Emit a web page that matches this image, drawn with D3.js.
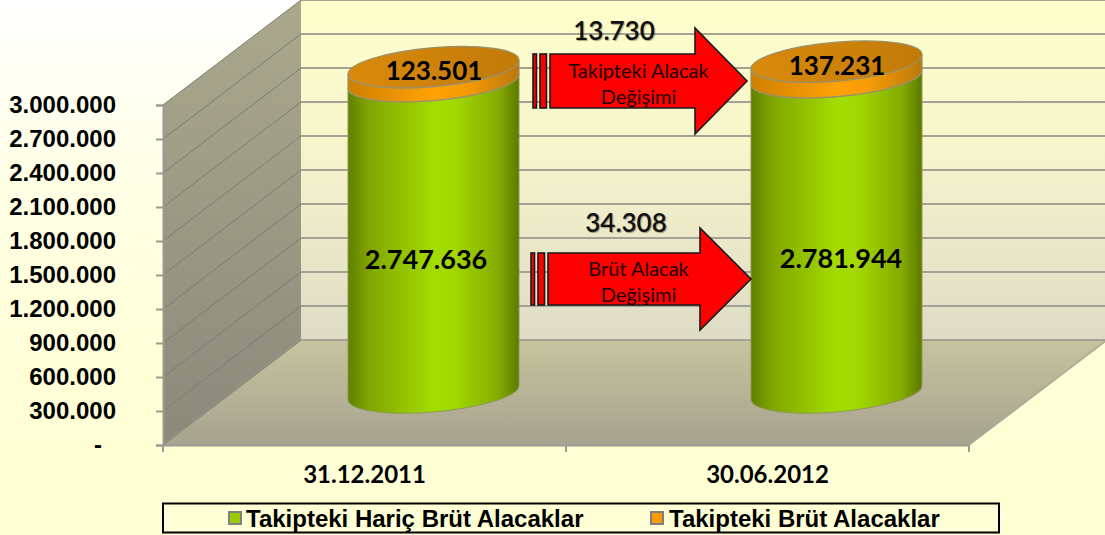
<!DOCTYPE html>
<html><head><meta charset="utf-8">
<style>
html,body{margin:0;padding:0;overflow:hidden;background:#ffffd6}
svg{display:block}
.lato{font-family:Lato,sans-serif}
.ar{font-family:"Liberation Sans",Arial,sans-serif;font-weight:bold}
</style>
<script src="https://cdn.jsdelivr.net/npm/d3@7/dist/d3.min.js"></script>
</head><body>
<script>
const categories = ["31.12.2011", "30.06.2012"];
const baseValues = [2747636, 2781944];
const topValues = [123501, 137231];
const yTicks = [0, 300000, 600000, 900000, 1200000, 1500000, 1800000, 2100000, 2400000, 2700000, 3000000];
const seriesNames = ["Takipteki Hariç Brüt Alacaklar", "Takipteki Brüt Alacaklar"];
const changeValues = [13730, 34308];
const changeLabels = [["Takipteki Alacak", "Değişimi"], ["Brüt Alacak", "Değişimi"]];

const W = 1105, H = 535;
const left = 163, right = 969, bottom = 445, top3 = 105;
const depthX = 138, depthY = 105;
const fmt = d3.formatLocale({decimal: ",", thousands: ".", grouping: [3], currency: ["", ""]}).format(",d");

const y = d3.scaleLinear().domain([0, 3000000]).range([bottom, top3]);
const x = d3.scaleBand().domain(categories).range([left, right]);

const svg = d3.select("body").append("svg").attr("width", W).attr("height", H);
const defs = svg.append("defs");
function grad(id, stops, x2, y2) {
  const g = defs.append("linearGradient").attr("id", id)
    .attr("x1", 0).attr("y1", 0).attr("x2", x2).attr("y2", y2);
  stops.forEach(s => g.append("stop").attr("offset", s[0]).attr("stop-color", s[1]));
}
grad("page", [[0, "#ffffff"], [0.3, "#ffffe8"], [0.65, "#ffffd8"], [1, "#ffffd4"]], 0, 1);
grad("back", [[0, "#ffffcc"], [0.45, "#f6f4cc"], [1, "#dedbc6"]], 0, 1);
grad("wall", [[0, "#aaa88c"], [1, "#8b8a7b"]], 0, 1);
grad("floor", [[0, "#c6c39e"], [1, "#a6a38f"]], 0, 1);
grad("green", [[0, "#5f8000"], [0.12, "#7fa500"], [0.5, "#a4dc00"], [0.62, "#a2d800"], [0.88, "#85ab00"], [1, "#5c7a00"]], 1, 0);
grad("orange", [[0, "#cf8000"], [0.5, "#ffa205"], [0.7, "#f59a05"], [1, "#b9780a"]], 1, 0);
grad("lid", [[0, "#d98a0c"], [1, "#c27a08"]], 1, 0);

svg.append("rect").attr("width", W).attr("height", H).attr("fill", "url(#page)");

// Walls and floor
const wallPts = [[left, y(3000000)], [left + depthX, y(3000000) - depthY], [left + depthX, bottom - depthY], [left, bottom]];
const floorPts = [[left, bottom], [right, bottom], [right + depthX, bottom - depthY], [left + depthX, bottom - depthY]];
svg.append("rect").attr("x", left + depthX).attr("y", y(3000000) - depthY)
  .attr("width", W - left - depthX).attr("height", y(0) - y(3000000)).attr("fill", "url(#back)");
svg.append("polygon").attr("points", wallPts.join(" ")).attr("fill", "url(#wall)");
svg.append("polygon").attr("points", floorPts.join(" ")).attr("fill", "url(#floor)")
  .attr("stroke", "#a9a998").attr("stroke-width", 1.5);

// Gridlines
svg.append("g").selectAll("line").data(yTicks).join("line")
  .attr("x1", left + depthX).attr("x2", W)
  .attr("y1", d => y(d) - depthY).attr("y2", d => y(d) - depthY)
  .attr("stroke", "#a3a294").attr("stroke-width", 2);
svg.append("g").selectAll("line").data(yTicks).join("line")
  .attr("x1", left).attr("x2", left + depthX)
  .attr("y1", d => y(d)).attr("y2", d => y(d) - depthY)
  .attr("stroke", "#7e7d70").attr("stroke-width", 1);

// Axes
const yAxis = svg.append("g").attr("transform", `translate(${left},0)`)
  .call(d3.axisLeft(y).tickValues(yTicks).tickSize(7).tickPadding(40)
    .tickFormat(d => d === 0 ? "-" : fmt(d)));
yAxis.selectAll("text").attr("class", "ar").attr("font-size", 24).attr("fill", "#000")
  .attr("dx", d => d === 0 ? -14 : 0);
const xEdges = [left, (left + right) / 2, right];
const xAxisG = svg.append("g").attr("transform", `translate(0,${bottom})`);
xAxisG.call(d3.axisBottom(x).tickSize(0).tickPadding(21));
xAxisG.selectAll("text").attr("class", "lato").attr("font-size", 24).attr("font-weight", 700).attr("fill", "#000");
xAxisG.selectAll("line.edge").data(xEdges).join("line").attr("class", "edge")
  .attr("x1", d => d).attr("x2", d => d).attr("y1", 0).attr("y2", 7)
  .attr("stroke", "#9a9a90").attr("stroke-width", 2);
[yAxis, xAxisG].forEach(g => g.selectAll(".domain").attr("stroke", "#9a9a90").attr("stroke-width", 2));
yAxis.selectAll(".tick line").attr("stroke", "#9a9a90").attr("stroke-width", 2);

// Cylinders
const rx = 85.5, ry = 19.5, shear = 7 / 85.5;
categories.forEach((c, i) => {
  const cx = x(c) + x.bandwidth() / 2 + depthX / 2;
  const by = y(0) - depthY / 2;
  const h = d3.scaleLinear().domain([0, 3000000]).range([0, y(0) - y(3000000)]);
  const g1 = h(baseValues[i]), g2 = h(baseValues[i] + topValues[i]);
  const g = svg.append("g").attr("transform", `matrix(1,${-shear},0,1,${cx},${by})`);
  const side = (t, b) => `M${-rx},${-t}A${rx},${ry} 0 0 0 ${rx},${-t}L${rx},${-b}A${rx},${ry} 0 0 1 ${-rx},${-b}Z`;
  g.append("path").attr("d", side(g1, 0)).attr("fill", "url(#green)")
    .attr("stroke", "#8d9a55").attr("stroke-width", 1);
  g.append("path").attr("d", side(g2, g1)).attr("fill", "url(#orange)")
    .attr("stroke", "#99916a").attr("stroke-width", 1.2);
  g.append("ellipse").attr("cy", -g2).attr("rx", rx).attr("ry", ry).attr("fill", "url(#lid)")
    .attr("stroke", "#99916a").attr("stroke-width", 1.2);
});

// Change arrows
const arrows = [
  {x0: 533, bodyX: 550, neck: 695, tip: 747, ty: 28, by: 134, bt: 54, bb: 108},
  {x0: 531, bodyX: 548, neck: 700, tip: 751, ty: 228, by: 330, bt: 253, bb: 305}
];
arrows.forEach((a, i) => {
  const cy = (a.ty + a.by) / 2;
  const g = svg.append("g").attr("stroke", "#1a1a1a").attr("stroke-width", 1.6).attr("fill", "#ff0000");
  g.append("rect").attr("x", a.x0).attr("y", a.bt).attr("width", 3.5).attr("height", a.bb - a.bt);
  g.append("rect").attr("x", a.x0 + 7).attr("y", a.bt).attr("width", 6.5).attr("height", a.bb - a.bt);
  g.append("path").attr("d", `M${a.bodyX},${a.bt}H${a.neck}V${a.ty}L${a.tip},${cy}L${a.neck},${a.by}V${a.bb}H${a.bodyX}Z`);
  changeLabels[i].forEach((t, j) => {
    svg.append("text").attr("class", "lato").attr("x", 638.5).attr("y", (i ? 268 : 69.5) + j * 26)
      .attr("text-anchor", "middle").attr("dominant-baseline", "central")
      .attr("font-size", 20).attr("fill", "#1a0000").text(t);
  });
});

// Value labels
function label(t, px, py, size) {
  return svg.append("text").attr("class", "lato").attr("x", px).attr("y", py)
    .attr("text-anchor", "middle").attr("dominant-baseline", "central")
    .attr("font-size", size).attr("font-weight", 700).attr("fill", "#000").text(t);
}
[[434, 70], [837, 65]].forEach((p, i) => label(fmt(topValues[i]), p[0], p[1], 26));
[[426, 258], [841, 257]].forEach((p, i) => label(fmt(baseValues[i]), p[0], p[1], 27));
[[614, 30], [626, 222]].forEach((p, i) => label(fmt(changeValues[i]), p[0], p[1], 26)
  .attr("font-weight", 600).attr("fill", "#111").style("text-shadow", "1px 1px 1px rgba(0,0,0,.35)"));

// Legend
svg.append("rect").attr("x", 163).attr("y", 503.5).attr("width", 836).attr("height", 29)
  .attr("fill", "#ffffd6").attr("stroke", "#000").attr("stroke-width", 2);
const legend = [
  {sx: 229, tx: 246, fill: "#99cc00"},
  {sx: 651, tx: 669, fill: "#ff9900"}
];
legend.forEach((l, i) => {
  svg.append("rect").attr("x", l.sx).attr("y", 512).attr("width", 12).attr("height", 12)
    .attr("fill", l.fill).attr("stroke", "#808080").attr("stroke-width", 2);
  svg.append("text").attr("class", "ar").attr("x", l.tx).attr("y", 518)
    .attr("dominant-baseline", "central").attr("font-size", 24).attr("fill", "#000").text(seriesNames[i]);
});
</script>
</body></html>
